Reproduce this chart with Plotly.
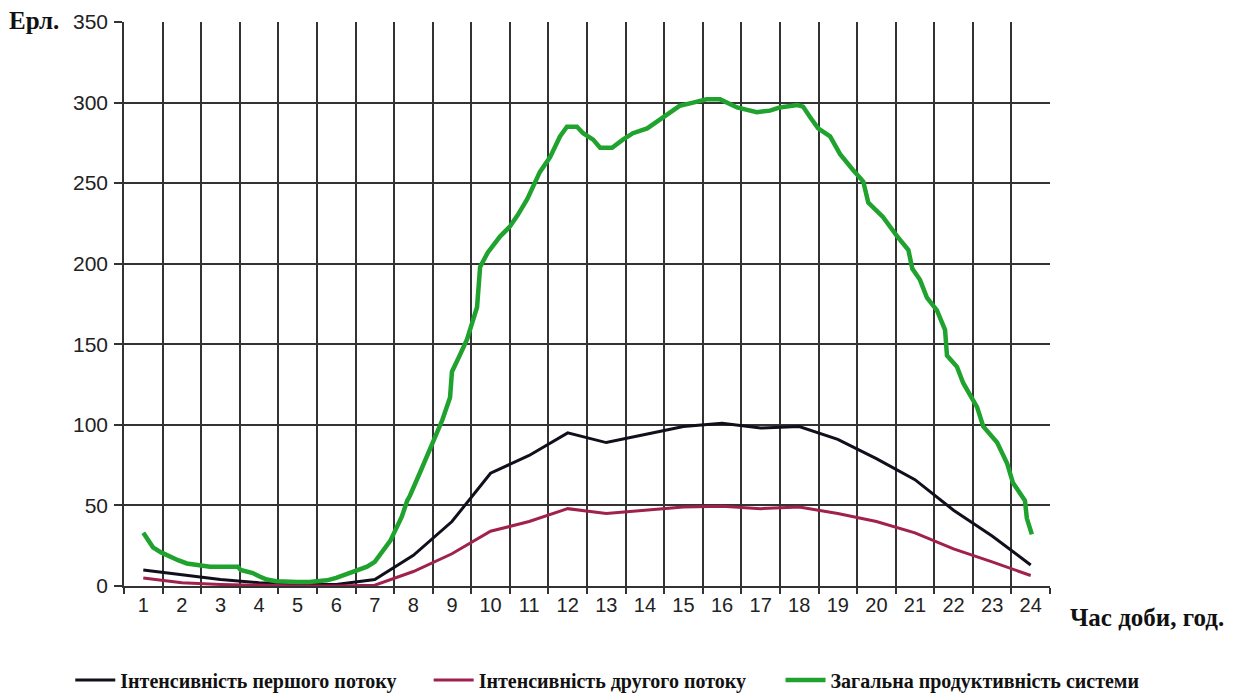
import plotly.graph_objects as go

hours = list(range(1, 25))
flow1 = [10, 7, 4, 2, 1, 1, 4, 19, 40, 70, 81, 95, 89, 94, 99, 101, 98, 99, 91, 79, 66, 47, 31, 13]
flow2 = [5, 2, 1, 0.5, 0, 0, 0.5, 9, 20, 34, 40, 48, 45, 47, 49, 49.5, 48, 49, 45, 40, 33, 23, 15, 6.5]

total_t = [1.0, 1.25, 1.45, 1.69, 1.9, 2.13, 2.4, 2.73, 3.1, 3.45, 3.52, 3.84, 4.0, 4.2, 4.45,
           4.72, 5.0, 5.3, 5.76, 6.0, 6.28, 6.55, 6.8, 7.0, 7.21, 7.4, 7.58, 7.7, 7.84, 7.91,
           8.2, 8.51, 8.75, 8.95, 9.0, 9.2, 9.39, 9.65, 9.73, 9.93, 10.25, 10.5, 10.7, 10.95,
           11.2, 11.28, 11.54, 11.8, 11.98, 12.24, 12.4, 12.66, 12.84, 13.15, 13.43, 13.69,
           14.06, 14.3, 14.57, 14.9, 15.25, 15.6, 15.95, 16.13, 16.39, 16.65, 16.9, 17.24,
           17.5, 17.95, 18.1, 18.28, 18.49, 18.8, 19.06, 19.4, 19.66, 19.79, 20.17, 20.54,
           20.83, 20.93, 21.13, 21.31, 21.57, 21.78, 21.83, 22.09, 22.25, 22.61, 22.77, 23.13,
           23.39, 23.54, 23.85, 23.9, 24.03]
total_v = [33, 24, 21, 18, 16, 14, 13, 12, 12, 12, 10, 8, 6, 4, 3,
           2.5, 2.5, 2.5, 3.5, 5, 7.5, 10, 12, 15, 22, 28, 37, 43, 53, 56,
           72, 89, 103, 117, 133, 143, 153, 173, 198, 207, 217, 223, 230, 240,
           252, 257, 266, 279, 285, 285, 281, 277, 272, 272, 277, 281,
           284, 288, 293, 298, 300, 302, 302, 300, 297, 295.5, 294, 295,
           297, 298.5, 297.5, 291, 284, 279, 268, 258, 251, 238, 229, 217,
           208.5, 197, 190, 179, 171, 159, 143, 136, 126, 111, 99, 89,
           76, 64, 53, 42, 32]

names = ["Інтенсивність першого потоку", "Інтенсивність другого потоку",
         "Загальна продуктивність системи"]
y_ticks = [0, 50, 100, 150, 200, 250, 300, 350]
x_bounds = [h - 0.5 for h in hours] + [24.5]

fig = go.Figure()
fig.add_trace(go.Scatter(x=hours, y=flow1, mode="lines", name=names[0], legend="legend",
                         line=dict(color="#10101c", width=3)))
fig.add_trace(go.Scatter(x=hours, y=flow2, mode="lines", name=names[1], legend="legend2",
                         line=dict(color="#a0204e", width=3)))
fig.add_trace(go.Scatter(x=total_t, y=total_v, mode="lines", name=names[2], legend="legend3",
                         line=dict(color="#1fa32e", width=4.5)))

grid_col = "#333333"
serif = "Liberation Serif, Times New Roman, serif"
leg_font = dict(family=serif, size=20, color="#111", weight="bold")


def leg(xp):
    return dict(orientation="h", x=xp, xanchor="left", y=-0.1667, yanchor="middle",
                font=leg_font, itemwidth=40, bgcolor="rgba(0,0,0,0)")


# page body has an 8px margin, so the figure is 8px smaller than the window
fig.update_layout(
    width=1228, height=687,
    margin=dict(l=116, r=186, t=14, b=109, autoexpand=False),
    paper_bgcolor="white", plot_bgcolor="white",
    font=dict(family="Liberation Sans, Arial, sans-serif", size=20, color="#222"),
    showlegend=True,
    legend=leg(-0.058),
    legend2=leg(0.329),
    legend3=leg(0.709),
    xaxis=dict(range=[0.5, 24.5], tickmode="array", tickvals=hours,
               ticktext=[str(h) for h in hours], showgrid=False, ticks="",
               showline=True, linecolor=grid_col, linewidth=1.6, zeroline=False,
               automargin=False, tickfont=dict(size=20, color="#222"),
               minor=dict(tickmode="array", tickvals=x_bounds, showgrid=True,
                          gridcolor=grid_col, gridwidth=1.6, ticks="outside",
                          ticklen=6, tickcolor=grid_col, tickwidth=1.6)),
    yaxis=dict(range=[0, 350], tickmode="array", tickvals=y_ticks,
               showgrid=True, gridcolor=grid_col, gridwidth=1.6,
               ticks="outside", ticklen=8, tickcolor=grid_col, tickwidth=1.6,
               showline=True, linecolor=grid_col, linewidth=1.6, zeroline=False,
               automargin=False, ticklabelstandoff=2, tickfont=dict(size=21, color="#222")),
    annotations=[
        dict(text="<b>Ерл.</b>", xref="paper", yref="paper", x=-0.097, y=1.0035,
             xanchor="center", yanchor="middle", showarrow=False,
             font=dict(family=serif, size=25, color="#111")),
        dict(text="<b>Час доби, год.</b>", xref="paper", yref="paper", x=1.0194, y=-0.0567,
             xanchor="left", yanchor="middle", showarrow=False,
             font=dict(family=serif, size=25, color="#111")),
    ],
)

fig.write_html("out.html")
